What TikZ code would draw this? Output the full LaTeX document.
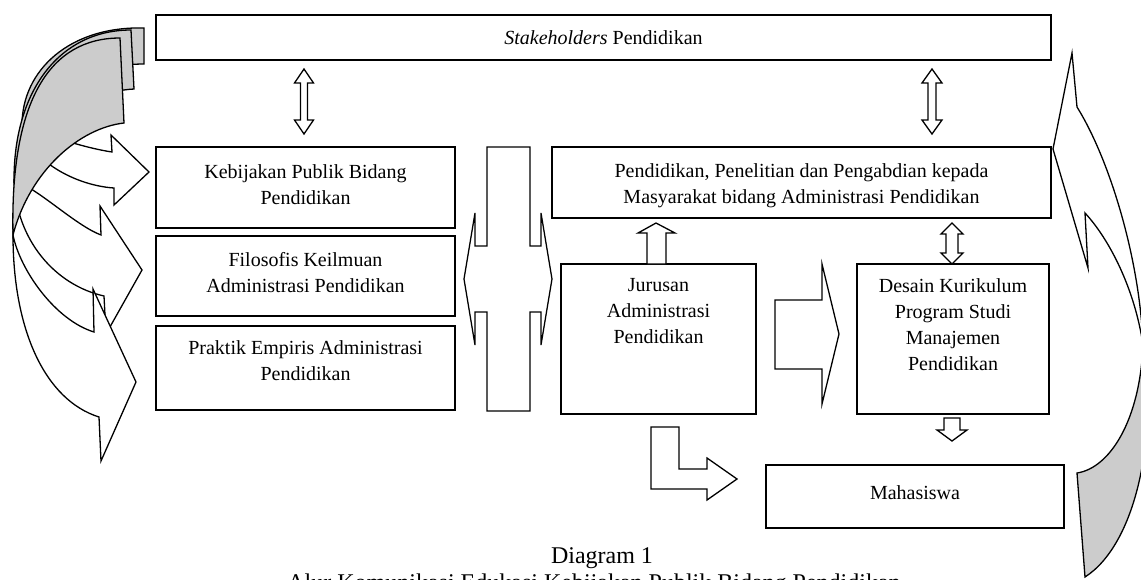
\documentclass[tikz,border=0pt]{standalone}
\usepackage{fontspec}
\setmainfont{Liberation Serif}
\begin{document}
\begin{tikzpicture}[x=1pt,y=-1pt,line join=miter,
  box/.style={draw=black,line width=1.3pt,fill=white,rectangle,inner sep=0pt},
  txt/.style={font=\fontsize{20}{26}\selectfont,align=center,inner sep=0pt,anchor=north},
  txtb/.style={font=\fontsize{20}{26}\selectfont,inner sep=0pt,anchor=base},
  captxt/.style={font=\fontsize{24}{28}\selectfont,inner sep=0pt,anchor=base},
  barrow/.style={draw=black,line width=1.3pt,fill=white},
  curw/.style={draw=black,line width=1.3pt,fill=white},
  curg/.style={draw=black,line width=1.3pt,fill=black!20}]
\useasboundingbox (0,0) rectangle (1141,579);
\fill[white] (0,0) rectangle (1141,579);

% ---------- left curved arrows ----------
% arrow A
\draw[curg] (144,28) .. controls (70,26) and (22,70) .. (22,125) .. controls (40,90) and (90,64) .. (144,64) -- cycle;
\draw[curw] (22,125) .. controls (25,155) and (70,185) .. (114,188) -- (114,205) -- (149,172) -- (111,135) -- (112,152) .. controls (85,148) and (45,135) .. (22,125) -- cycle;
% arrow B
\draw[curg] (131,30) .. controls (60,30) and (14,90) .. (14,180) .. controls (30,130) and (80,92) .. (134,89) -- cycle;
\draw[curw] (14,180) .. controls (16,240) and (55,285) .. (104,296) -- (106,334) -- (142,270) -- (100,206) -- (101,235) .. controls (75,225) and (40,190) .. (14,180) -- cycle;
% arrow C
\draw[curg] (120,38) .. controls (50,38) and (10,100) .. (13,235) .. controls (30,170) and (80,128) .. (124,123) -- cycle;
\draw[curw] (13,235) .. controls (13,330) and (45,400) .. (99,417) -- (101,461) -- (136,382) -- (93,289) -- (94,332) .. controls (55,320) and (20,270) .. (13,235) -- cycle;

% ---------- right curved arrow ----------
\draw[curw] (1077,107) .. controls (1110,160) and (1140,260) .. (1143,345) .. controls (1135,290) and (1110,240) .. (1085,213) -- (1088,268) -- (1053,149) -- (1072,53) -- cycle;
\draw[curg] (1143,345) .. controls (1158,440) and (1135,545) .. (1085,577) -- (1077,473) .. controls (1110,468) and (1140,420) .. (1143,345) -- cycle;

% ---------- boxes ----------
\node[box,minimum width=895pt,minimum height=45pt] (stake) at (603.5,37.5) {};
\node[box,minimum width=299pt,minimum height=81pt] (keb) at (305.5,187.5) {};
\node[box,minimum width=299pt,minimum height=80pt] (fil) at (305.5,276) {};
\node[box,minimum width=299pt,minimum height=84pt] (prak) at (305.5,368) {};
\node[box,minimum width=499pt,minimum height=71pt] (pend) at (801.5,182.5) {};
\node[box,minimum width=195pt,minimum height=150pt] (jur) at (658.5,339) {};
\node[box,minimum width=192pt,minimum height=150pt] (des) at (953,339) {};
\node[box,minimum width=298pt,minimum height=63pt] (mah) at (915,496.5) {};

% ---------- texts ----------
\node[txtb] (stakeT) at (603.5,44) {\textit{Stakeholders} Pendidikan};
\node[txt] (kebT) at (305.5,164.3) {Kebijakan Publik Bidang\\Pendidikan};
\node[txt] (filT) at (305.5,252.3) {Filosofis Keilmuan\\Administrasi Pendidikan};
\node[txt] (prakT) at (305.5,340.3) {Praktik Empiris Administrasi\\Pendidikan};
\node[txt] (pendT) at (801.5,163.3) {Pendidikan, Penelitian dan Pengabdian kepada\\Masyarakat bidang Administrasi Pendidikan};
\node[txt] (jurT) at (658.5,278.3) {Jurusan\\Administrasi\\Pendidikan};
\node[txt] (desT) at (953,278.3) {Desain Kurikulum\\Program Studi\\Manajemen\\Pendidikan};
\node[txtb] (mahT) at (915,499) {Mahasiswa};
\node[captxt] (cap1) at (602,563) {Diagram 1};
\node[captxt] (cap2) at (594,590) {Alur Komunikasi Edukasi Kebijakan Publik Bidang Pendidikan};

% ---------- block arrows ----------
% stakeholders <-> kebijakan
\draw[barrow] (304,69) -- (313.5,83) -- (307.5,83) -- (307.5,120) -- (313.5,120) -- (304,134) -- (294.5,120) -- (300.5,120) -- (300.5,83) -- (294.5,83) -- cycle;
% stakeholders <-> pendidikan
\draw[barrow] (932,69) -- (942,83) -- (936,83) -- (936,120) -- (942,120) -- (932,134) -- (922,120) -- (928,120) -- (928,83) -- (922,83) -- cycle;
% middle double arrow
\draw[barrow] (487,147) -- (530,147) -- (530,246) -- (541,246) -- (541,213) -- (552,279) -- (541,345) -- (541,312) -- (530,312) -- (530,411) -- (487,411) -- (487,312) -- (475,312) -- (475,345) -- (464,279) -- (475,213) -- (475,246) -- (487,246) -- cycle;
% jurusan -> pendidikan
\draw[barrow] (656,223) -- (675,233) -- (666,233) -- (666,264) -- (647,264) -- (647,233) -- (638,233) -- cycle;
% pendidikan <-> desain
\draw[barrow] (952,223) -- (963,234) -- (958,234) -- (958,253) -- (963,253) -- (952,264) -- (941,253) -- (946,253) -- (946,234) -- (941,234) -- cycle;
% jurusan -> desain
\draw[barrow] (775,300) -- (822,300) -- (822,264) -- (839,334) -- (822,404) -- (822,369) -- (775,369) -- cycle;
% desain -> mahasiswa
\draw[barrow] (944,418) -- (960,418) -- (960,430) -- (967,430) -- (952,441) -- (937,430) -- (944,430) -- cycle;
% jurusan -> mahasiswa (L shape)
\draw[barrow] (651,427) -- (679,427) -- (679,469) -- (707,469) -- (707,458) -- (737,479) -- (707,500) -- (707,489) -- (651,489) -- cycle;
\end{tikzpicture}
\end{document}
